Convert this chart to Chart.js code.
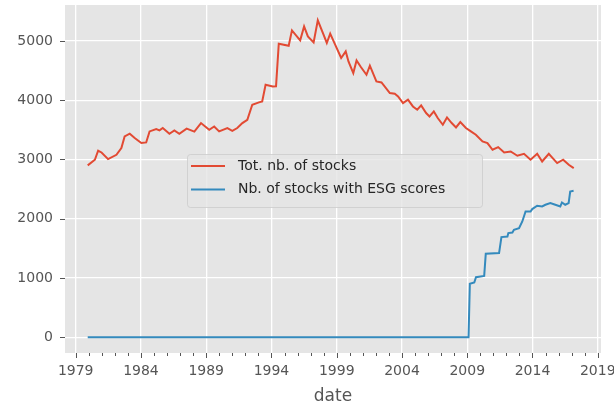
<!DOCTYPE html>
<html lang="en">
<head>
    <meta charset="UTF-8">
    <title>Stocks with ESG scores</title>
    <script src="https://cdn.jsdelivr.net/npm/chart.js"></script>
    <style>
        body {
            margin: 0;
            padding: 0;
            background: white;
        }
        .container {
            width: 614px;
            height: 407px;
        }
    </style>
</head>
<body>
    <div class="container">
        <canvas id="stocksChart" width="614" height="407"></canvas>
    </div>

    <script>
        // values (decimal year, count)
        const totYears = [1979.92, 1980.47, 1980.72, 1980.98, 1981.48, 1982.12, 1982.5, 1982.75, 1983.14, 1983.52,
            1984.03, 1984.4, 1984.66, 1985.17, 1985.42, 1985.67, 1986.18, 1986.56, 1986.94, 1987.5,
            1988.09, 1988.6, 1989.23, 1989.61, 1989.99, 1990.62, 1991.0, 1991.38, 1991.77, 1992.15,
            1992.53, 1993.04, 1993.29, 1993.55, 1994.1, 1994.35, 1994.56, 1995.32, 1995.57, 1996.2,
            1996.5, 1996.79, 1997.23, 1997.55, 1997.99, 1998.24, 1998.5, 1998.88, 1999.34, 1999.69,
            1999.9, 2000.27, 2000.52, 2000.85, 2001.28, 2001.54, 2002.04, 2002.43, 2003.07, 2003.45,
            2003.7, 2004.08, 2004.46, 2004.84, 2005.17, 2005.47, 2005.85, 2006.11, 2006.44, 2006.74,
            2007.13, 2007.45, 2007.81, 2008.14, 2008.47, 2008.9, 2009.28, 2009.66, 2010.17, 2010.55,
            2010.94, 2011.37, 2011.83, 2012.33, 2012.84, 2013.35, 2013.85, 2014.36, 2014.74, 2015.25,
            2015.89, 2016.35, 2016.78, 2017.16];
        const totStocks = [2900, 2995, 3147, 3118, 3006, 3079, 3192, 3388, 3434, 3361,
            3277, 3287, 3473, 3513, 3490, 3530, 3434, 3490, 3434, 3520,
            3470, 3614, 3501, 3557, 3473, 3530, 3484, 3530, 3614, 3670,
            3924, 3963, 3980, 4261, 4230, 4233, 4954, 4920, 5178, 5010,
            5246, 5077, 4976, 5347, 5106, 4966, 5123, 4937, 4712, 4824,
            4655, 4459, 4672, 4560, 4430, 4582, 4317, 4300, 4121, 4109,
            4064, 3952, 4008, 3895, 3839, 3912, 3783, 3726, 3810, 3699,
            3586, 3709, 3614, 3540, 3631, 3530, 3473, 3417, 3304, 3277,
            3164, 3209, 3118, 3135, 3062, 3096, 2995, 3096, 2966, 3096,
            2939, 2995, 2910, 2854];

        const esgYears = [1979.92, 2009.1, 2009.2, 2009.54, 2009.67, 2010.3, 2010.42, 2011.44, 2011.62, 2012.08,
            2012.15, 2012.46, 2012.58, 2012.97, 2013.22, 2013.47, 2013.85, 2013.98, 2014.36, 2014.74,
            2014.99, 2015.37, 2015.75, 2016.13, 2016.26, 2016.51, 2016.77, 2016.89, 2017.15];
        const esgStocks = [0, 0, 900, 922, 1013, 1035, 1407, 1419, 1690, 1699,
            1757, 1767, 1812, 1841, 1953, 2121, 2121, 2162, 2218, 2206,
            2235, 2263, 2235, 2206, 2274, 2235, 2263, 2459, 2471];

        const seriesLabels = ["Tot. nb. of stocks", "Nb. of stocks with ESG scores"];
        const seriesColors = ["#E24A33", "#348ABD"];

        const xTicks = [1979, 1984, 1989, 1994, 1999, 2004, 2009, 2014, 2019];
        const yTicks = [0, 1000, 2000, 3000, 4000, 5000];

        const FONT = "'DejaVu Sans', sans-serif";

        function toPoints(xs, ys) {
            return xs.map((x, i) => ({ x: x, y: ys[i] }));
        }

        // labels hanging over the panel edge should not shrink the panel
        function noEdgePadding(scale) {
            scale.paddingTop = 0;
            scale.paddingBottom = 0;
            scale.paddingLeft = 0;
            scale.paddingRight = 0;
        }

        // panel background, tick marks and the legend box (matplotlib ggplot look)
        const ggplotLook = {
            id: "ggplotLook",
            beforeDraw(chart) {
                const a = chart.chartArea;
                const ctx = chart.ctx;
                ctx.save();
                ctx.fillStyle = "#E5E5E5";
                ctx.fillRect(a.left, a.top, a.right - a.left, a.bottom - a.top);
                ctx.restore();
            },
            afterDraw(chart) {
                const a = chart.chartArea;
                const ctx = chart.ctx;
                const xs = chart.scales.x;
                const ys = chart.scales.y;
                ctx.save();
                ctx.strokeStyle = "#555555";
                ctx.lineWidth = 1;
                for (let yr = 1979; yr <= 2019; yr++) {
                    const px = Math.round(xs.getPixelForValue(yr)) + 0.5;
                    const len = xTicks.includes(yr) ? 5 : 3;
                    ctx.beginPath();
                    ctx.moveTo(px, a.bottom);
                    ctx.lineTo(px, a.bottom + len);
                    ctx.stroke();
                }
                yTicks.forEach(v => {
                    const py = Math.round(ys.getPixelForValue(v)) + 0.5;
                    ctx.beginPath();
                    ctx.moveTo(a.left - 5, py);
                    ctx.lineTo(a.left, py);
                    ctx.stroke();
                });

                // legend
                const lx = 187, ly = 154, lw = 295, lh = 53;
                ctx.beginPath();
                ctx.roundRect(lx + 0.5, ly + 0.5, lw, lh, 3);
                ctx.fillStyle = "rgba(229,229,229,0.8)";
                ctx.fill();
                ctx.strokeStyle = "rgba(204,204,204,0.8)";
                ctx.stroke();
                ctx.font = "14px " + FONT;
                ctx.textBaseline = "middle";
                ctx.textAlign = "left";
                chart.data.datasets.forEach((ds, i) => {
                    const rowY = ly + 12 + i * 23.5;
                    ctx.strokeStyle = ds.borderColor;
                    ctx.lineWidth = 2;
                    ctx.beginPath();
                    ctx.moveTo(lx + 4, rowY);
                    ctx.lineTo(lx + 38, rowY);
                    ctx.stroke();
                    ctx.fillStyle = "#262626";
                    ctx.fillText(ds.label, lx + 51, rowY);
                });
                ctx.restore();
            }
        };

        const ctx = document.getElementById("stocksChart").getContext("2d");
        new Chart(ctx, {
            type: "line",
            data: {
                datasets: [{
                    label: seriesLabels[0],
                    data: toPoints(totYears, totStocks),
                    borderColor: seriesColors[0],
                    borderWidth: 2,
                    pointRadius: 0,
                    tension: 0
                }, {
                    label: seriesLabels[1],
                    data: toPoints(esgYears, esgStocks),
                    borderColor: seriesColors[1],
                    borderWidth: 2,
                    pointRadius: 0,
                    tension: 0
                }]
            },
            options: {
                responsive: false,
                animation: false,
                layout: { padding: { top: 5, right: 13, left: 0, bottom: 0 } },
                plugins: {
                    legend: { display: false },
                    tooltip: { enabled: false }
                },
                scales: {
                    x: {
                        type: "linear",
                        min: 1978.18,
                        max: 2019.25,
                        afterBuildTicks: scale => {
                            const t = [];
                            for (let yr = 1979; yr <= 2019; yr++) t.push({ value: yr });
                            scale.ticks = t;
                        },
                        afterFit: scale => {
                            scale.height = 54;
                            noEdgePadding(scale);
                        },
                        grid: {
                            color: c => xTicks.includes(c.tick && c.tick.value) ? "#FFFFFF" : "rgba(0,0,0,0)",
                            lineWidth: 1.3,
                            drawTicks: false
                        },
                        border: { display: false },
                        ticks: {
                            autoSkip: false,
                            maxRotation: 0,
                            padding: 10,
                            color: "#555555",
                            font: { family: FONT, size: 14 },
                            callback: v => xTicks.includes(v) ? String(v) : ""
                        },
                        title: {
                            display: true,
                            text: "date",
                            color: "#555555",
                            font: { family: FONT, size: 17 },
                            padding: { top: 0, bottom: 0 }
                        }
                    },
                    y: {
                        min: -267,
                        max: 5607,
                        afterBuildTicks: scale => {
                            scale.ticks = yTicks.map(v => ({ value: v }));
                        },
                        afterFit: scale => {
                            scale.width = 65;
                            noEdgePadding(scale);
                        },
                        grid: {
                            color: "#FFFFFF",
                            lineWidth: 1.3,
                            drawTicks: false
                        },
                        border: { display: false },
                        ticks: {
                            padding: 12,
                            color: "#555555",
                            font: { family: FONT, size: 14 },
                            callback: v => String(v)
                        }
                    }
                }
            },
            plugins: [ggplotLook]
        });
    </script>
</body>
</html>
